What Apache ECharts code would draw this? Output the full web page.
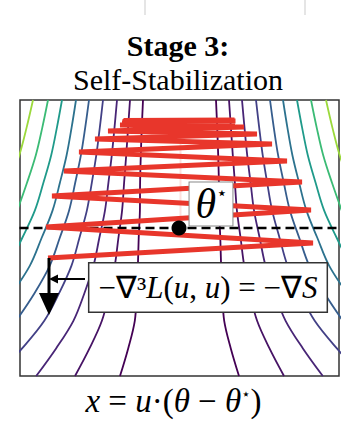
<!DOCTYPE html>
<html>
<head>
<meta charset="utf-8">
<script src="https://cdn.jsdelivr.net/npm/echarts@6/dist/echarts.min.js"></script>
<style>
html,body{margin:0;padding:0;background:#fff;}
#chart{width:352px;height:434px;}
</style>
</head>
<body>
<div id="chart"></div>
<script>
// ---- data (x: offset along u from theta*, y: position along the sharpness direction) ----
const titleLine1 = 'Stage 3:';
const titleLine2 = 'Self-Stabilization';

// contour levels: half-width (|x|) of each level curve at each row height
const contourRowsY = [276, 248.4, 220.8, 193.2, 165.6, 138, 110.4, 82.8, 55.2, 27.6, 0];
const contourHalfWidths = [
  [36.5, 37.7, 38.7, 39.4, 39.6, 40.8, 41.6, 42.8, 44.7, 51.3, 59.5],
  [49.5, 51.4, 53.3, 55.4, 57.4, 61.1, 64.7, 70.4, 77.6, 90.0, 104.5],
  [62.5, 65.0, 67.7, 71.1, 74.5, 80.2, 86.0, 95.1, 106.1, 123.4, 143.3],
  [76.5, 79.7, 83.2, 87.7, 92.6, 100.1, 108.0, 120.4, 135.2, 157.4, 182.7],
  [90.5, 94.3, 98.6, 104.3, 110.4, 119.8, 129.7, 145.0, 163.4],
  [103.5, 107.9, 112.9, 119.6, 126.9, 137.9, 149.6, 167.6],
  [117.5, 122.6, 128.3, 136.1, 144.6, 157.3, 170.8],
  [131.5, 137.2, 143.7, 152.5, 162.2],
  [146.5, 152.9, 160.2, 170.1]
];
const contourColors = ['#440154', '#471365', '#482576', '#424086', '#365d8d', '#2c728e', '#1f9a8a', '#3bbb75', '#9bd93c'];

// gradient-descent trajectory
const trajX = [-131.5, 133.5, -133.5, 131.5, -127.5, 122.5, -115.5, 107.5, -100.5, 92.5, -84.5, 77.5, -71.5, 64.5, -59.5, 53.5, -57.5, 55.5, -57, 56, -55, 54, -56, 55];
const trajY = [118, 133, 149, 166, 180, 194, 205, 215, 224, 232, 237, 242, 245, 249, 251, 253, 253, 254, 254.5, 255, 255, 255.5, 255.5, 256];

const thetaStar = [-0.5, 148];
const arrowStart = [-130.5, 118];
const arrowEnd = [-130.5, 72];
const smallArrow = [[-94.5, 97], [-126, 97]];
const starLabelPos = [31.5, 172];
const gradLabelPos = [28.5, 88.5];

// ---- build series ----
const serif = "'Liberation Serif'";
const series = [];
contourHalfWidths.forEach(function (hw, k) {
  [-1, 1].forEach(function (side) {
    series.push({
      type: 'line', smooth: 0.35, symbol: 'none', silent: true, z: 1,
      lineStyle: { color: contourColors[k], width: 1.8 },
      data: hw.map(function (d, i) { return [side * d, contourRowsY[i]]; })
    });
  });
});
// dashed horizontal line through theta*
series.push({
  type: 'line', symbol: 'none', z: 2,
  lineStyle: { color: '#000', width: 2.5, type: [9, 5] },
  data: [[-160, thetaStar[1]], [160, thetaStar[1]]]
});
// faint trace above theta*
series.push({
  type: 'line', symbol: 'none', z: 2,
  lineStyle: { color: 'rgba(232,54,43,0.15)', width: 2 },
  data: [[1, thetaStar[1]], [1, 240]]
});
// trajectory
series.push({
  type: 'line', symbol: 'none', z: 3,
  lineStyle: { color: '#e8362b', width: 4.8, join: 'miter' },
  data: trajX.map(function (x, i) { return [x, trajY[i]]; })
});
// theta* point
series.push({
  type: 'scatter', z: 4, symbolSize: 15, itemStyle: { color: '#000', opacity: 1 },
  data: [thetaStar]
});
// big arrow (-grad S)
series.push({
  type: 'line', z: 5,
  lineStyle: { color: '#000', width: 3 },
  data: [
    { value: arrowStart, symbol: 'none' },
    { value: arrowEnd, symbol: 'triangle', symbolSize: [20, 22], symbolRotate: 180, itemStyle: { color: '#000' } }
  ]
});
// small arrow from label
series.push({
  type: 'line', z: 5,
  lineStyle: { color: '#000', width: 2 },
  data: [
    { value: smallArrow[0], symbol: 'none' },
    { value: smallArrow[1], symbol: 'triangle', symbolSize: [9, 9], symbolRotate: 90, itemStyle: { color: '#000' } }
  ]
});
// label boxes
series.push({
  type: 'scatter', z: 6, symbolSize: 0, itemStyle: { opacity: 1 },
  data: [{
    value: starLabelPos,
    label: {
      show: true, position: 'inside', opacity: 1,
      formatter: '{t|θ}{s|⋆}',
      backgroundColor: '#fff', borderColor: '#888', borderWidth: 1,
      padding: [1, 5, 2, 6],
      rich: {
        t: { fontFamily: serif, fontStyle: 'italic', fontSize: 42, lineHeight: 40, color: '#000' },
        s: { fontFamily: 'DejaVu Sans', fontSize: 18, lineHeight: 40, verticalAlign: 'top', color: '#000' }
      }
    }
  }, {
    value: gradLabelPos,
    label: {
      show: true, position: 'inside', opacity: 1,
      formatter: '{n|−∇³}{i|L}{n|(}{i|u}{n|, }{i|u}{n|) = −∇}{i|S}',
      backgroundColor: '#fff', borderColor: '#333', borderWidth: 1.5,
      padding: [7, 9, 7, 9],
      rich: {
        n: { fontFamily: serif, fontSize: 31, lineHeight: 34, color: '#000' },
        i: { fontFamily: serif, fontStyle: 'italic', fontSize: 31, lineHeight: 34, color: '#000' }
      }
    }
  }]
});

const chart = echarts.init(document.getElementById('chart'), null, { renderer: 'svg' });
chart.setOption({
  animation: false,
  backgroundColor: '#fff',
  title: {
    text: '{b|' + titleLine1 + '}\n{r|' + titleLine2 + '}',
    left: 178, textAlign: 'center', top: 29, padding: 0,
    textStyle: {
      rich: {
        b: { fontFamily: serif, fontWeight: 'bold', fontSize: 30, lineHeight: 33.5, color: '#000', align: 'center' },
        r: { fontFamily: serif, fontWeight: 'normal', fontSize: 30, lineHeight: 33.5, color: '#000', align: 'center' }
      }
    }
  },
  grid: { left: 20, right: 13, top: 100, bottom: 58, show: true, borderColor: '#333', borderWidth: 1.5, backgroundColor: 'transparent' },
  xAxis: {
    type: 'value', min: -159.5, max: 159.5,
    axisLine: { show: false }, axisTick: { show: false }, axisLabel: { show: false }, splitLine: { show: false },
    name: '{i|x}{n| = }{i|u}{n|·(}{i|θ}{n| − }{i|θ}{s|⋆}{n|)}',
    nameLocation: 'middle', nameGap: 10,
    nameTextStyle: {
      padding: [0, 12, 0, 0],
      rich: {
        n: { fontFamily: serif, fontSize: 33, lineHeight: 30, color: '#000' },
        i: { fontFamily: serif, fontStyle: 'italic', fontSize: 33, lineHeight: 30, color: '#000' },
        s: { fontFamily: 'DejaVu Sans', fontSize: 15, lineHeight: 30, verticalAlign: 'top', color: '#000' }
      }
    }
  },
  yAxis: {
    type: 'value', min: 0, max: 276,
    axisLine: { show: false }, axisTick: { show: false }, axisLabel: { show: false }, splitLine: { show: false }
  },
  graphic: [
    { type: 'line', shape: { x1: 145, y1: 0, x2: 145, y2: 15 }, style: { stroke: '#ddd', lineWidth: 1.5 } },
    { type: 'line', shape: { x1: 305, y1: 0, x2: 305, y2: 15 }, style: { stroke: '#ddd', lineWidth: 1.5 } }
  ],
  series: series
});
</script>
</body>
</html>
